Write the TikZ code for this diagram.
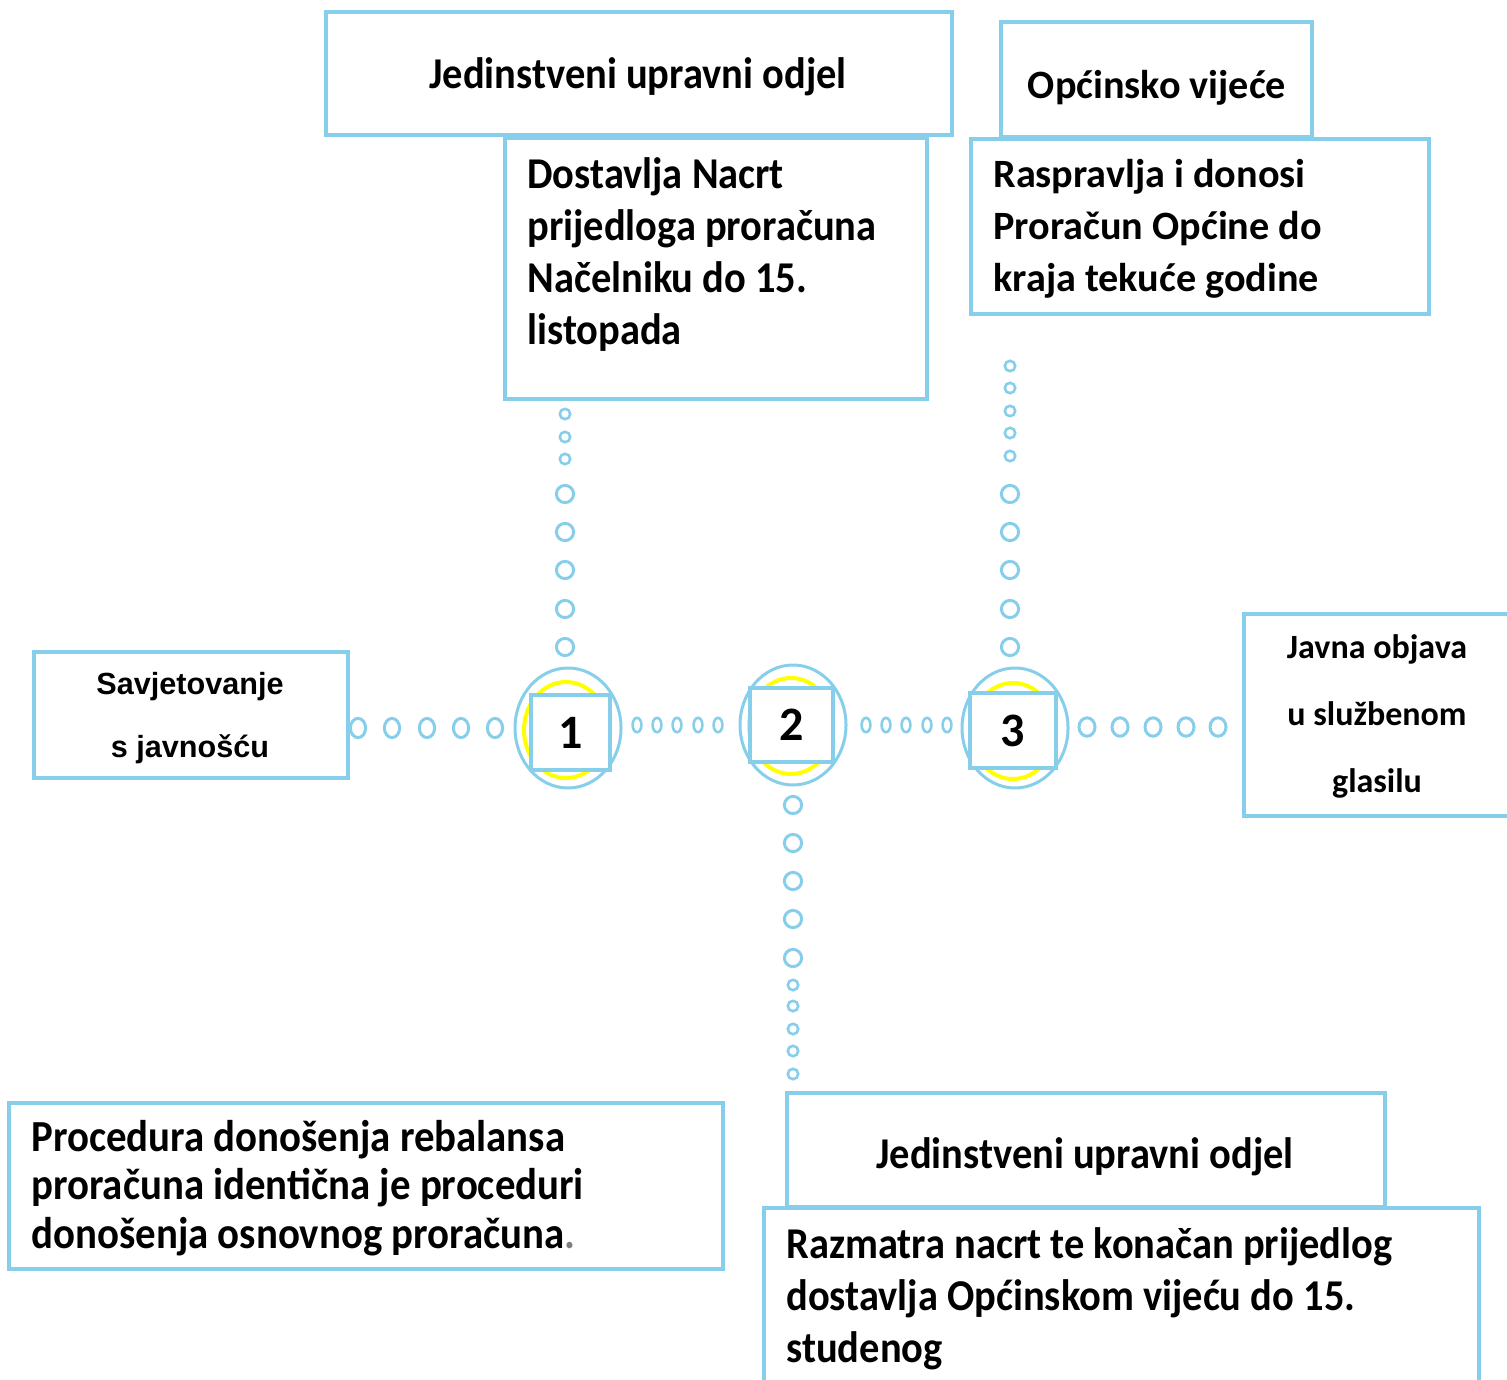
\documentclass[tikz,border=0pt]{standalone}
\usepackage{fontspec}
\setmainfont{Carlito}
\newfontfamily\condfont{Carlito}[FakeStretch=0.92]
\newfontfamily\arialfont{Liberation Sans}
\usetikzlibrary{positioning}

\definecolor{skyline}{RGB}{135,206,235}
\definecolor{sunring}{RGB}{255,255,0}

\begin{document}
\begin{tikzpicture}[x=0.5pt,y=-0.5pt,
      box/.style = {shape=rectangle, draw=skyline, line width=1.6pt,
        fill=white, inner sep=0pt},
      txt/.style = {inner sep=0pt, align=left},
      ctxt/.style = {inner sep=0pt, align=center},
      numbox/.style = {shape=rectangle, draw=skyline, line width=1.6pt,
        fill=white, font=\fontsize{24}{24}\selectfont\bfseries},
      ring/.style = {draw=skyline, line width=1.5pt},
      smallring/.style = {draw=skyline, line width=1.3pt}]
  \useasboundingbox (0,0) rectangle (1507,1379);

  % boxes on top
  \node[box, minimum width=313pt, minimum height=61.5pt] (juoA) at (639,73.5) {};
  \node[ctxt, font=\condfont\bfseries\fontsize{22}{26}\selectfont] (juoAtxt) at (638,77) {Jedinstveni upravni odjel};
  \node[box, minimum width=211pt, minimum height=130.5pt] (dost) at (716,268.5) {};
  \node[txt, anchor=west, font=\condfont\bfseries\fontsize{22}{26}\selectfont] (dosttxt) at (527,255)
    {Dostavlja Nacrt\\prijedloga proračuna\\Načelniku do 15.\\listopada};

  \node[box, minimum width=155.5pt, minimum height=57.5pt] (opc) at (1156.5,79.5) {};
  \node[ctxt, font=\bfseries\fontsize{20.1}{26}\selectfont] (opctxt) at (1157,88) {Općinsko vijeće};
  \node[box, minimum width=229pt, minimum height=87.5pt] (rasp) at (1200,226.5) {};
  \node[txt, anchor=west, font=\bfseries\fontsize{20.1}{26}\selectfont] (rasptxt) at (993,229)
    {Raspravlja i donosi\\Proračun Općine do\\kraja tekuće godine};

  % side boxes
  \node[box, minimum width=157pt, minimum height=63pt] (sav) at (191,715) {};
  \node[ctxt, font=\arialfont\bfseries\fontsize{15.3}{31.5}\selectfont] (savtxt) at (190,718) {Savjetovanje\\s javnošću};
  \node[box, minimum width=135.5pt, minimum height=101pt] (javna) at (1379.5,715) {};
  \node[ctxt, font=\bfseries\fontsize{17}{33.5}\selectfont] (javnatxt) at (1377,716) {Javna objava\\u službenom\\glasilu};

  % bottom boxes
  \node[box, minimum width=357pt, minimum height=83pt] (proc) at (366,1186) {};
  \node[txt, anchor=west, font=\condfont\bfseries\fontsize{22.2}{24.3}\selectfont] (proctxt) at (31,1188)
    {Procedura donošenja rebalansa\\proračuna identična je proceduri\\donošenja osnovnog proračuna\textcolor{gray}{.}};
  \node[box, minimum width=299pt, minimum height=57pt] (juoB) at (1086,1150) {};
  \node[ctxt, font=\condfont\bfseries\fontsize{22}{26}\selectfont] (juoBtxt) at (1085,1157) {Jedinstveni upravni odjel};
  \node[box, minimum width=357.5pt, minimum height=96pt] (razm) at (1121.5,1304) {};
  \node[txt, anchor=west, font=\condfont\bfseries\fontsize{22}{26}\selectfont] (razmtxt) at (786,1299)
    {Razmatra nacrt te konačan prijedlog\\dostavlja Općinskom vijeću do 15.\\studenog};

  % steps
  \draw[ring, fill=white] (568,728) ellipse [x radius=26.5pt, y radius=30pt];
  \draw[draw=sunring, line width=2pt] (566,730) ellipse [x radius=21pt, y radius=24pt];
  \node[numbox, minimum width=39.5pt, minimum height=37.5pt] (s1) at (570.5,732.5) {1};
  \draw[ring, fill=white] (793,725) ellipse [x radius=26.5pt, y radius=30pt];
  \draw[draw=sunring, line width=2pt] (791,726) ellipse [x radius=21pt, y radius=24pt];
  \node[numbox, minimum width=41.5pt, minimum height=37pt] (s2) at (791.5,725) {2};
  \draw[ring, fill=white] (1015,728) ellipse [x radius=26.5pt, y radius=30pt];
  \draw[draw=sunring, line width=2pt] (1013,731) ellipse [x radius=21pt, y radius=24pt];
  \node[numbox, minimum width=43pt, minimum height=37.5pt] (s3) at (1013,730.5) {3};

  % dotted links
  \foreach \x in {358,392,427,461,495}
    \draw[ring] (\x,728) ellipse [x radius=3.8pt, y radius=4.8pt];
  \foreach \x in {637,657,677,698,718}
    \draw[smallring] (\x,725) ellipse [x radius=2.2pt, y radius=3.6pt];
  \foreach \x in {866,886,906,927,947}
    \draw[smallring] (\x,725) ellipse [x radius=2.2pt, y radius=3.6pt];
  \foreach \x in {1087,1120,1153,1186,1218}
    \draw[ring] (\x,727) ellipse [x radius=4pt, y radius=4.6pt];

  \foreach \y in {414,437,459}
    \draw[smallring] (565,\y) circle [radius=2.6pt];
  \foreach \y in {494,532,570,609,647}
    \draw[ring] (565,\y) circle [radius=4.3pt];
  \foreach \y in {366,388,411,433,456}
    \draw[smallring] (1010,\y) circle [radius=2.6pt];
  \foreach \y in {494,532,570,609,647}
    \draw[ring] (1010,\y) circle [radius=4.3pt];
  \foreach \y in {805,843,881,919,958}
    \draw[ring] (793,\y) circle [radius=4.3pt];
  \foreach \y in {985,1006,1029,1051,1074}
    \draw[smallring] (793,\y) circle [radius=2.6pt];
\end{tikzpicture}
\end{document}
